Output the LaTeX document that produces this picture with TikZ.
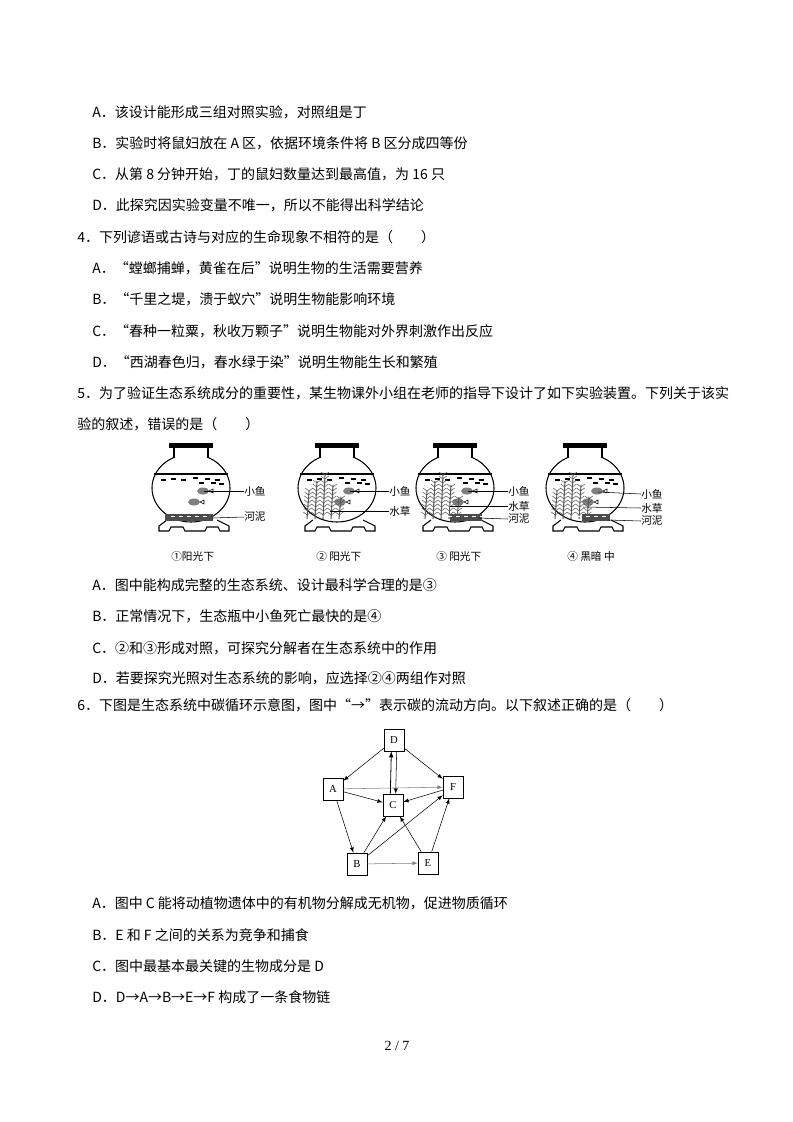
\documentclass[tikz,border=0pt]{standalone}
\usepackage{fontspec}
\setmainfont{Liberation Serif}
\newfontfamily\cjk{Noto Sans CJK SC}
\newcommand\jarbody[1]{%
  \draw[thick] ({#1},488) ellipse (39 and 34);
  \fill[white] ({#1-16},449) rectangle ({#1+16},458);
  \fill[black] ({#1-22},443) rectangle ({#1+22},448);
  \draw[thick] ({#1-17},448) -- ({#1-17},457.5);
  \draw[thick] ({#1+17},448) -- ({#1+17},457.5);
  \draw[thick] ({#1-37},474) -- ({#1+37},474);
  \foreach \dx/\dy in {-30/480,-20/479,-10/480,2/478,14/479,24/480,8/483,20/483,28/484}
    \draw[thick] ({#1+\dx},\dy) -- ({#1+\dx+5},\dy);
  \fill[gray] ({#1+12},491) ellipse (6 and 3.5);
  \fill[gray] ({#1+3},502) ellipse (6 and 3.5);
  \draw ({#1+18},491) -- ({#1+22},489) -- ({#1+22},493) -- cycle;
  \draw ({#1+9},502) -- ({#1+13},500) -- ({#1+13},504) -- cycle;
  \draw[thick] ({#1-24},520) -- ({#1-32},526) -- ({#1-32},531) -- ({#1-22},531) -- ({#1-20},527) -- ({#1-8},527) -- ({#1-6},531)
     -- ({#1+14},531) -- ({#1+16},527) -- ({#1+27},527) -- ({#1+29},531) -- ({#1+38},531) -- ({#1+38},526) -- ({#1+26},520);
}
\newcommand\plants[1]{%
  \foreach \sx/\h in {-30/28,-22/38,-14/44,-6/34,2/22}{
    \draw[gray!70!black,thick] ({#1+\sx},519) -- ({#1+\sx+2},{519-\h});
    \foreach \k in {4,8,...,\h}{
      \draw[gray!70!black] ({#1+\sx+\k/\h*2},{519-\k}) -- ({#1+\sx+\k/\h*2-4},{519-\k-3});
      \draw[gray!70!black] ({#1+\sx+\k/\h*2},{519-\k}) -- ({#1+\sx+\k/\h*2+4},{519-\k-3});
    }}
}
\newcommand\mud[2]{%
  \fill[gray!60!black] ({#1-#2},514) rectangle ({#1+#2-4},521);
  \foreach \dx in {-20,-12,...,12} \draw[white] ({#1+\dx},516) -- ({#1+\dx+4},516);
}
\begin{document}
\begin{tikzpicture}[x=0.75pt,y=-0.75pt,
  tx/.style={anchor=west,inner sep=0pt,font=\cjk\fontsize{10.5}{12}\selectfont},
  lb/.style={anchor=west,inner sep=0pt,font=\cjk\fontsize{8}{9}\selectfont},
  bx/.style={draw,fill=white,minimum width=15pt,minimum height=16.5pt,inner sep=0pt,font=\fontsize{8}{9}\selectfont},
  ar/.style={-latex,thin}]
\useasboundingbox (0,0) rectangle (793,1122);
\node[tx] (t1) at (92,112) {A．该设计能形成三组对照实验，对照组是丁};
\node[tx] (t2) at (92,143) {B．实验时将鼠妇放在 A 区，依据环境条件将 B 区分成四等份};
\node[tx] (t3) at (92,174) {C．从第 8 分钟开始，丁的鼠妇数量达到最高值，为 16 只};
\node[tx] (t4) at (92,205) {D．此探究因实验变量不唯一，所以不能得出科学结论};
\node[tx] (q4) at (77,237) {4．下列谚语或古诗与对应的生命现象不相符的是（　　）};
\node[tx] (t5) at (92,268) {A．“螳螂捕蝉，黄雀在后”说明生物的生活需要营养};
\node[tx] (t6) at (92,299) {B．“千里之堤，溃于蚁穴”说明生物能影响环境};
\node[tx] (t7) at (92,331) {C．“春种一粒粟，秋收万颗子”说明生物能对外界刺激作出反应};
\node[tx] (t8) at (92,362) {D．“西湖春色归，春水绿于染”说明生物能生长和繁殖};
\node[tx] (q5) at (77,393) {5．为了验证生态系统成分的重要性，某生物课外小组在老师的指导下设计了如下实验装置。下列关于该实};
\node[tx] (q5b) at (77,424) {验的叙述，错误的是（　　）};
% jars
\jarbody{191}\mud{191}{26}
\jarbody{337}\plants{337}
\jarbody{455}\plants{455}\mud{468}{18}
\jarbody{585}\plants{585}\mud{598}{16}
\node[lb] (l1) at (244,491) {小鱼}; \draw (204,491) -- (l1.west);
\node[lb] (l2) at (244,517) {河泥}; \draw (212,518) -- (l2.west);
\node[lb] (l3) at (389,491) {小鱼}; \draw (350,491) -- (l3.west);
\node[lb] (l4) at (389,511) {水草}; \draw (330,511) -- (l4.west);
\node[lb] (l5) at (508,491) {小鱼}; \draw (468,491) -- (l5.west);
\node[lb] (l6) at (508,506) {水草}; \draw (450,506) -- (l6.west);
\node[lb] (l7) at (508,519) {河泥}; \draw (478,518) -- (l7.west);
\node[lb] (l8) at (641,494) {小鱼}; \draw (598,492) -- (l8.west);
\node[lb] (l9) at (641,508) {水草}; \draw (583,507) -- (l9.west);
\node[lb] (l10) at (641,521) {河泥}; \draw (608,520) -- (l10.west);
\node[lb] (c1) at (171,556) {①阳光下};
\node[lb] (c2) at (316,556) {② 阳光下};
\node[lb] (c3) at (436,556) {③ 阳光下};
\node[lb] (c4) at (567,556) {④ 黑暗 中};
\node[tx] (t9) at (92,585) {A．图中能构成完整的生态系统、设计最科学合理的是③};
\node[tx] (t10) at (92,616) {B．正常情况下，生态瓶中小鱼死亡最快的是④};
\node[tx] (t11) at (92,648) {C．②和③形成对照，可探究分解者在生态系统中的作用};
\node[tx] (t12) at (92,678) {D．若要探究光照对生态系统的影响，应选择②④两组作对照};
\node[tx] (q6) at (77,705) {6．下图是生态系统中碳循环示意图，图中“→”表示碳的流动方向。以下叙述正确的是（　　）};
% carbon cycle
\node[bx] (D) at (394,740) {D};
\node[bx] (A) at (333,789) {A};
\node[bx] (F) at (453,787) {F};
\node[bx] (C) at (393,805) {C};
\node[bx] (B) at (357,864) {B};
\node[bx] (E) at (428,863) {E};
\draw[ar] (D) -- (A);
\draw[ar] (D) -- (F);
\draw[ar] ([xshift=2pt]D.south) -- ([xshift=2pt]C.north);
\draw[ar,semithick] ([xshift=-2pt]C.north) -- ([xshift=-2pt]D.south);
\draw[ar,gray] (A) -- (F);
\draw[ar] (A) -- (C);
\draw[ar] (F) -- (C);
\draw[ar] (A) -- (B);
\draw[ar] (B) -- (C);
\draw[ar] (B) -- (F);
\draw[ar,gray] (B) -- (E);
\draw[ar] (E) -- (C);
\draw[ar] (E) -- (F);
\node[tx] (t13) at (92,903) {A．图中 C 能将动植物遗体中的有机物分解成无机物，促进物质循环};
\node[tx] (t14) at (92,935) {B．E 和 F 之间的关系为竞争和捕食};
\node[tx] (t15) at (92,966) {C．图中最基本最关键的生物成分是 D};
\node[tx] (t16) at (92,997) {D．D→A→B→E→F 构成了一条食物链};
\node[font=\fontsize{10.5}{12}\selectfont] (pg) at (397,1046) {2 / 7};
\end{tikzpicture}
\end{document}
